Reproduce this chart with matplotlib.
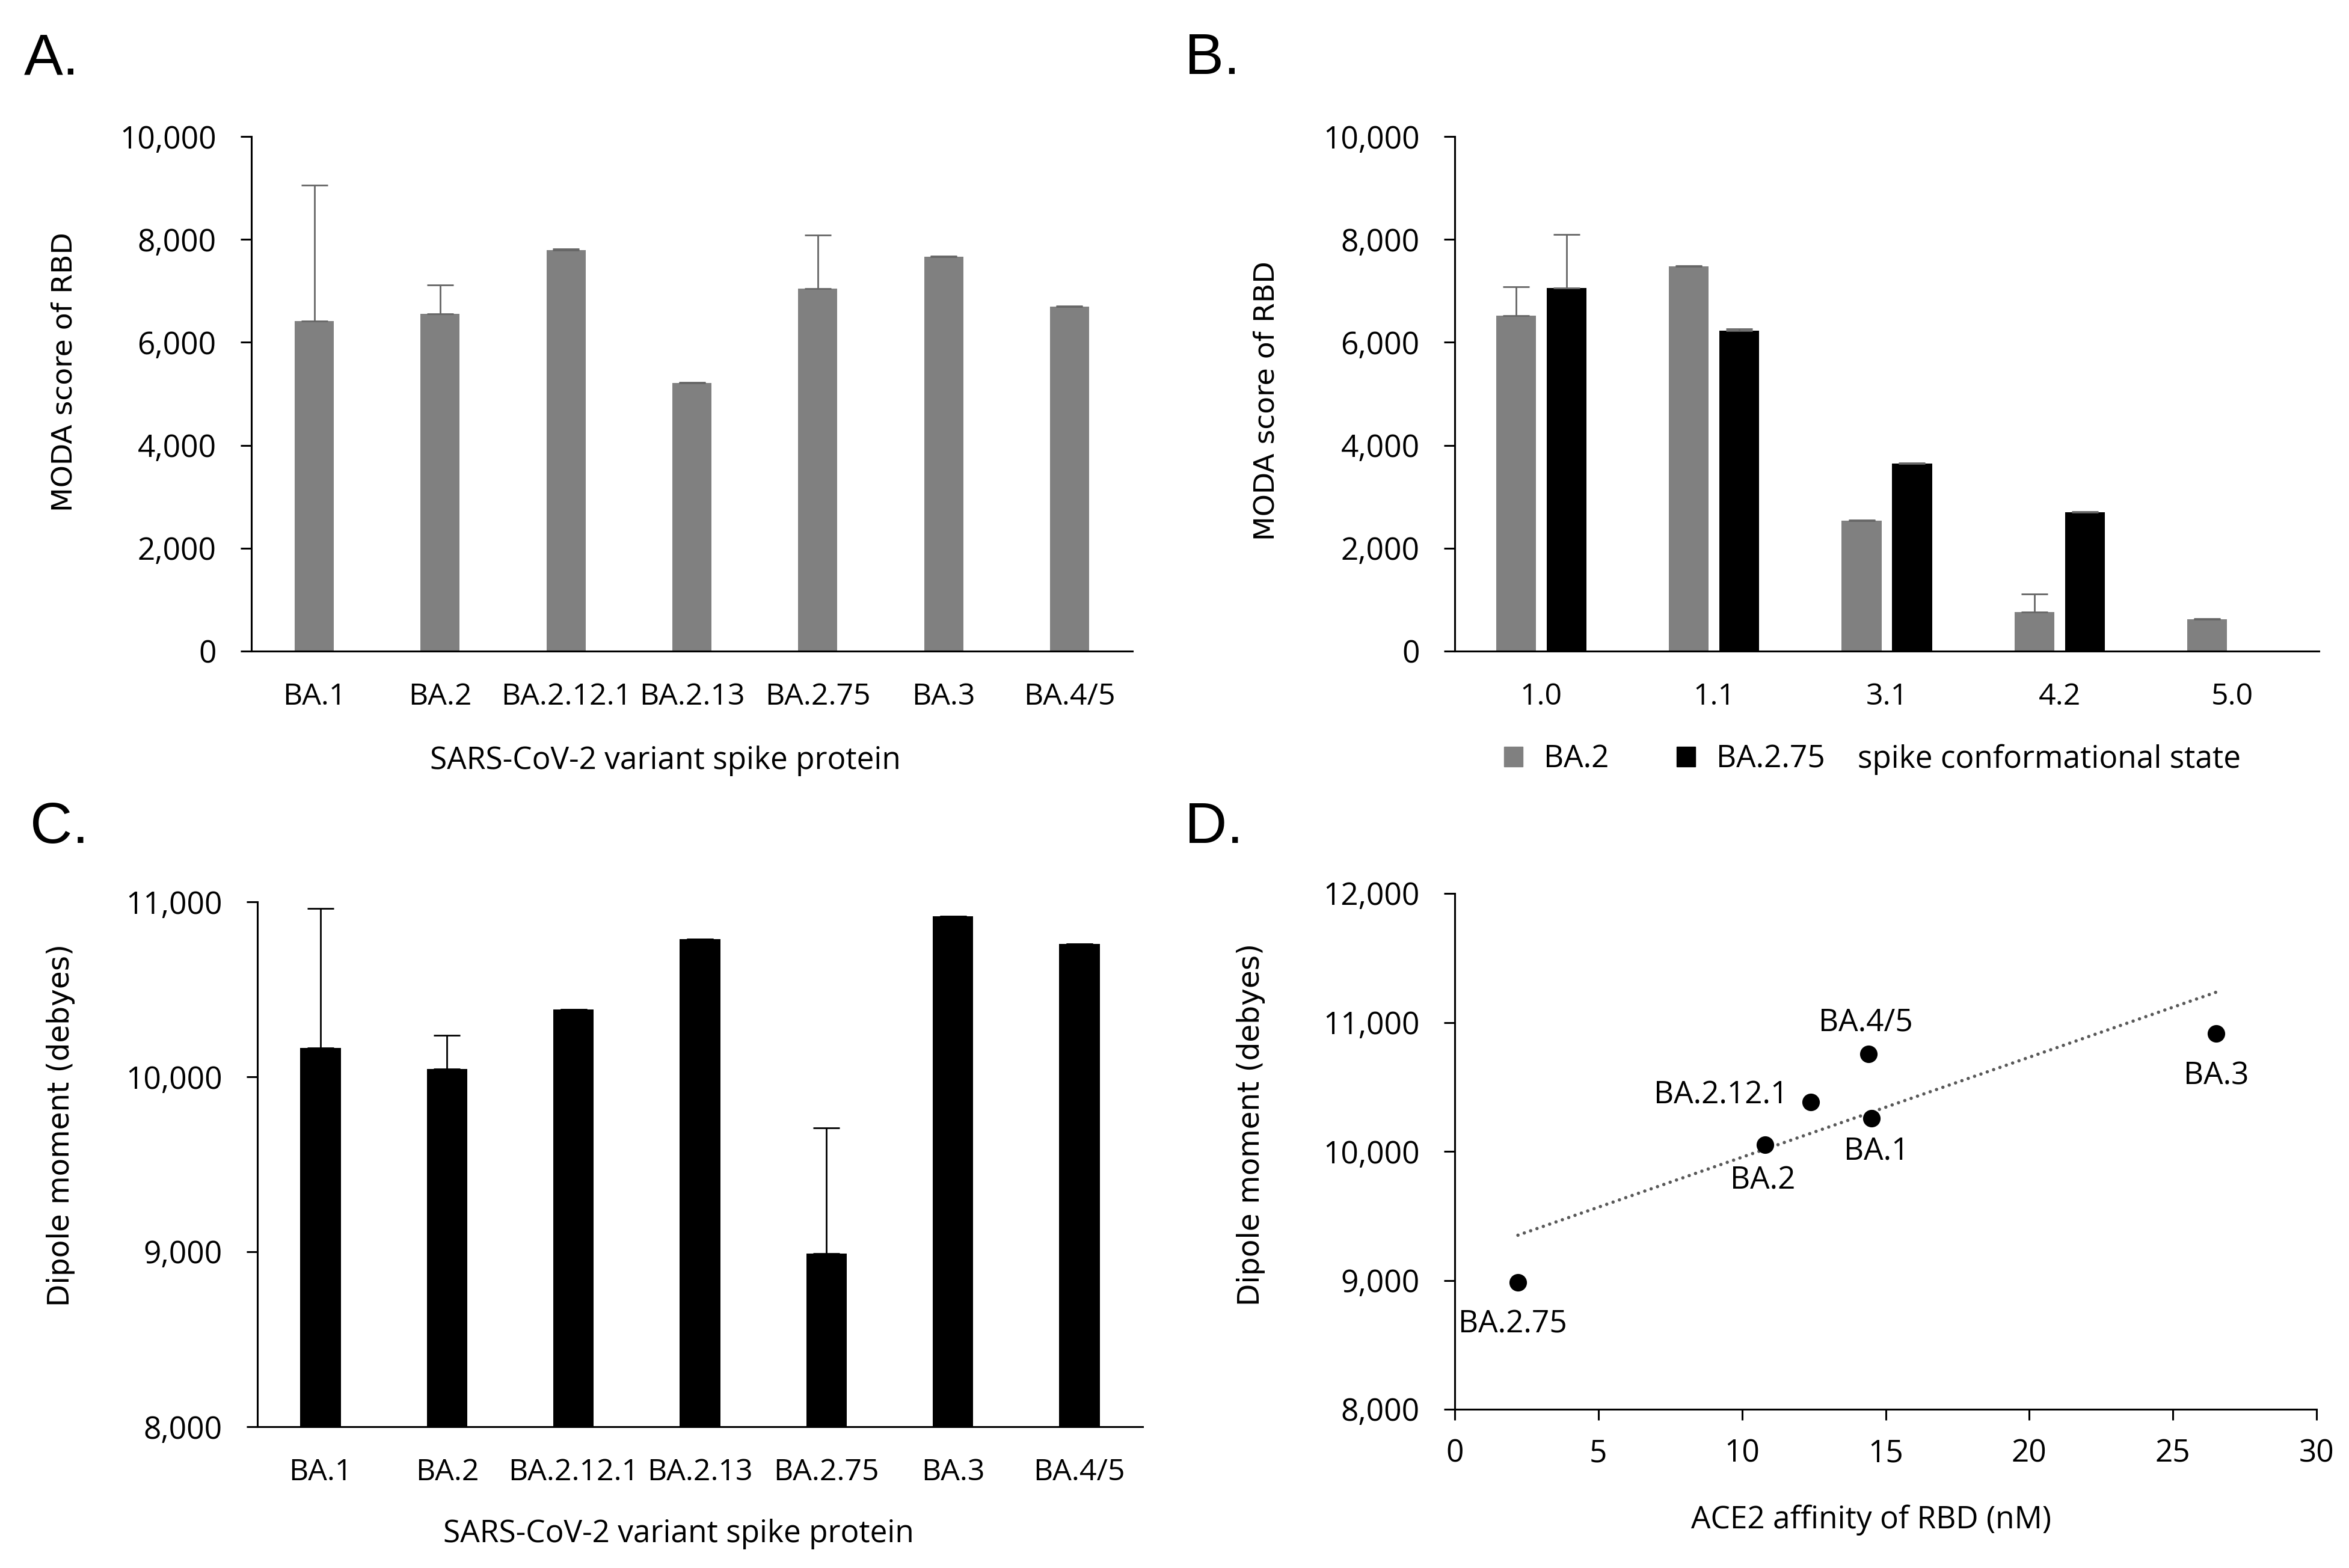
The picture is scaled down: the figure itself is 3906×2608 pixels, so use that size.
import numpy as np
import matplotlib
matplotlib.use("Agg")
import matplotlib.pyplot as plt
from matplotlib.patches import Patch
from matplotlib.ticker import FuncFormatter, MultipleLocator

# panel A / C categories
variants = ["BA.1", "BA.2", "BA.2.12.1", "BA.2.13", "BA.2.75", "BA.3", "BA.4/5"]
moda = [6410, 6555, 7795, 5210, 7050, 7660, 6690]
moda_err = [2640, 560, 15, 15, 1035, 15, 15]

# panel B
states = ["1.0", "1.1", "3.1", "4.2", "5.0"]
moda_ba2 = [6515, 7475, 2535, 755, 620]
moda_ba2_err = [565, 15, 15, 360, 15]
moda_ba275 = [7055, 6225, 3640, 2700, 0]
moda_ba275_err = [1045, 40, 15, 15, 0]

# panel C
dipole = [10165, 10046, 10386, 10786, 8991, 10919, 10759]
dipole_err = [797, 192, 0, 0, 716, 0, 0]

# panel D
d_names = ["BA.1", "BA.2", "BA.2.12.1", "BA.4/5", "BA.2.75", "BA.3"]
d_ace2 = [14.5, 10.8, 12.4, 14.4, 2.2, 26.5]
d_dipole = [10258, 10049, 10383, 10753, 8983, 10914]
d_offsets = [(6, -40), (-3, -43), (-108, 8), (-3, 38), (-6, -50), (0, -51)]

W, H = 3906, 2608
tick_font = "Open Sans"
lab_font = "DejaVu Sans"
TFS = 36
GRAY = "#808080"

fig = plt.figure(figsize=(W / 100, H / 100), dpi=100)
comma = FuncFormatter(lambda v, p: "{:,.0f}".format(v))


def frame(ax):
    for s in ["top", "right"]:
        ax.spines[s].set_visible(False)
    for s in ["left", "bottom"]:
        ax.spines[s].set_linewidth(2.2)
    ax.tick_params(axis="y", length=13, width=2.2, pad=29, labelsize=TFS + 1)
    ax.tick_params(axis="x", labelsize=TFS)
    for t in ax.get_xticklabels() + ax.get_yticklabels():
        t.set_fontfamily(tick_font)
    ax.yaxis.set_major_formatter(comma)


def axbox(l, t, r, b):
    return fig.add_axes([l / W, 1 - b / H, (r - l) / W, (b - t) / H])


# ---- A ----
axA = axbox(418, 227, 1883, 1083)
x = np.arange(len(variants))
axA.bar(x, moda, width=0.31, color=GRAY,
        yerr=[np.zeros(len(moda)), moda_err], capsize=16,
        error_kw=dict(ecolor="#666666", elinewidth=2, capthick=2))
axA.set_xlim(-0.5, len(variants) - 0.5)
axA.set_ylim(0, 10000)
axA.yaxis.set_major_locator(MultipleLocator(2000))
axA.set_xticks(x, variants)
frame(axA)
axA.tick_params(axis="x", length=0, pad=37)
axA.set_ylabel("MODA score of RBD", fontsize=34, fontfamily=lab_font)
axA.yaxis.set_label_coords(-0.197, 0.543)
axA.set_xlabel("SARS-CoV-2 variant spike protein", fontsize=TFS + 1,
               fontfamily=tick_font, va="center")
axA.xaxis.set_label_coords(0.47, -0.213)

# ---- B ----
axB = axbox(2419, 227, 3856, 1083)
xb = np.arange(len(states))
axB.bar(xb - 0.146, moda_ba2, width=0.23, color=GRAY,
        yerr=[np.zeros(len(states)), moda_ba2_err], capsize=16,
        error_kw=dict(ecolor="#666666", elinewidth=2, capthick=2))
axB.bar(xb + 0.146, moda_ba275, width=0.23, color="black",
        yerr=[np.zeros(len(states)), moda_ba275_err], capsize=16,
        error_kw=dict(ecolor="#666666", elinewidth=2, capthick=2))
axB.set_xlim(-0.5, len(states) - 0.5)
axB.set_ylim(0, 10000)
axB.yaxis.set_major_locator(MultipleLocator(2000))
axB.set_xticks(xb, states)
frame(axB)
axB.tick_params(axis="x", length=0, pad=37)
axB.set_ylabel("MODA score of RBD", fontsize=34, fontfamily=lab_font)
axB.yaxis.set_label_coords(-0.2025, 0.486)
axB.set_xlabel("spike conformational state", fontsize=TFS + 1, fontfamily=tick_font,
               ha="left", va="center")
axB.xaxis.set_label_coords(0.466, -0.210)
handles = [Patch(color=GRAY, label="BA.2"), Patch(color="black", label="BA.2.75")]
fig.legend(handles=handles, loc="center left", ncol=2, frameon=False,
           bbox_to_anchor=(2501 / W, 1 - 1263 / H), bbox_transform=fig.transFigure,
           borderpad=0, borderaxespad=0, handlelength=0.6, handleheight=0.6,
           handletextpad=0.68, columnspacing=2.2,
           prop=dict(family=tick_font, size=TFS + 1))

# ---- C ----
axC = axbox(428, 1500, 1900, 2373)
axC.bar(x, dipole, width=0.32, color="black",
        yerr=[np.zeros(len(dipole)), dipole_err], capsize=16,
        error_kw=dict(ecolor="black", elinewidth=2, capthick=2))
axC.set_xlim(-0.5, len(variants) - 0.5)
axC.set_ylim(8000, 11000)
axC.yaxis.set_major_locator(MultipleLocator(1000))
axC.set_xticks(x, variants)
frame(axC)
axC.tick_params(axis="x", length=0, pad=37)
axC.set_ylabel("Dipole moment (debyes)", fontsize=35, fontfamily=lab_font)
axC.yaxis.set_label_coords(-0.206, 0.575)
axC.set_xlabel("SARS-CoV-2 variant spike protein", fontsize=TFS + 1,
               fontfamily=tick_font, va="center")
axC.xaxis.set_label_coords(0.476, -0.205)

# ---- D ----
axD = axbox(2419, 1486, 3852, 2344)
axD.plot(d_ace2, d_dipole, "o", color="black", markersize=20, zorder=3)
fit = np.polyfit(d_ace2, d_dipole, 1)
fx = np.array([min(d_ace2), max(d_ace2)])
axD.plot(fx, np.polyval(fit, fx), color="#595959", linewidth=4,
         linestyle=(0, (0.01, 2)), dash_capstyle="round")
for name, xv, yv, off in zip(d_names, d_ace2, d_dipole, d_offsets):
    axD.annotate(name, (xv, yv), xytext=off, textcoords="offset points",
                 ha="center", va="center", fontsize=TFS + 1, fontfamily=tick_font)
axD.set_xlim(0, 30)
axD.set_ylim(8000, 12000)
axD.xaxis.set_major_locator(MultipleLocator(5))
axD.yaxis.set_major_locator(MultipleLocator(1000))
frame(axD)
axD.tick_params(axis="x", length=13, width=2.2, pad=22, labelsize=TFS + 1)
axD.set_ylabel("Dipole moment (debyes)", fontsize=35, fontfamily=lab_font)
axD.yaxis.set_label_coords(-0.22, 0.552)
axD.set_xlabel("ACE2 affinity of RBD (nM)", fontsize=TFS + 1, fontfamily=tick_font,
               va="center")
axD.xaxis.set_label_coords(0.483, -0.215)

# panel letters
for letter, px, py in [("A.", 40, 123), ("B.", 1970, 123), ("C.", 50, 1402), ("D.", 1970, 1402)]:
    fig.text(px / W, 1 - py / H, letter, fontsize=70, fontfamily="Liberation Sans",
             ha="left", va="baseline")

fig.savefig("out.png", dpi=100, facecolor="white")
